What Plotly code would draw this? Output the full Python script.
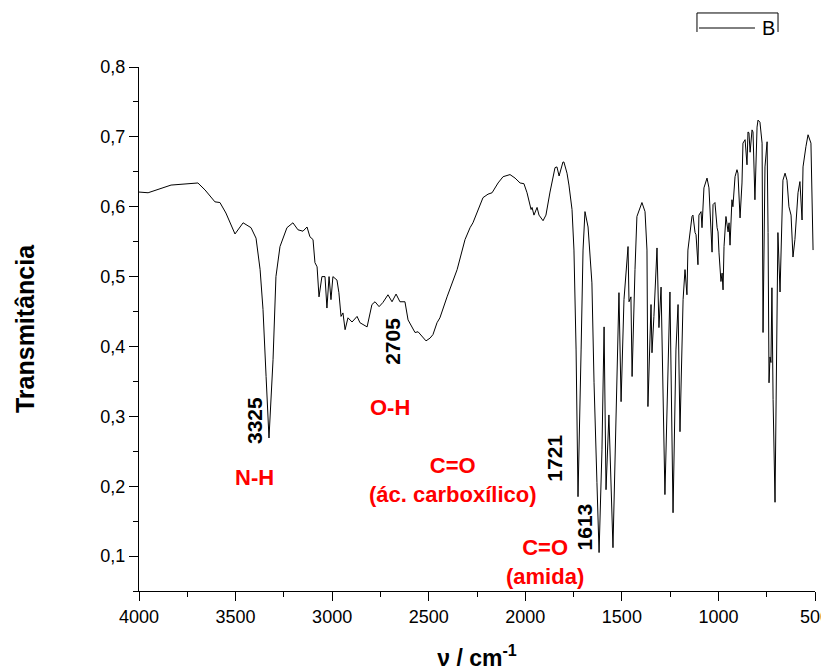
import plotly.graph_objects as go

# Wavenumber (cm^-1) and transmittance
wavenumber = [4000, 3953, 3834, 3731, 3695, 3658, 3607, 3581, 3550, 3503, 3461, 3420, 3394, 3373,
              3358, 3342, 3327, 3306, 3291, 3270, 3234, 3203, 3177, 3151, 3130, 3115, 3099, 3089,
              3078, 3068, 3053, 3037, 3027, 3016, 3006, 2996, 2975, 2965, 2954, 2944, 2933, 2918,
              2897, 2871, 2856, 2819, 2794, 2778, 2757, 2737, 2711, 2690, 2669, 2649, 2623, 2607,
              2587, 2571, 2555, 2535, 2514, 2493, 2478, 2457, 2442, 2405, 2379, 2353, 2312, 2286,
              2271, 2245, 2219, 2193, 2172, 2141, 2115, 2079, 2053, 2027, 2007, 1991, 1981, 1970,
              1965, 1955, 1939, 1929, 1908, 1893, 1872, 1846, 1836, 1825, 1805, 1800, 1784, 1774,
              1758, 1748, 1737, 1727, 1711, 1701, 1691, 1675, 1655, 1644, 1629, 1618, 1603, 1592,
              1582, 1567, 1546, 1525, 1515, 1504, 1489, 1468, 1463, 1453, 1447, 1432, 1422, 1396,
              1380, 1370, 1365, 1349, 1344, 1334, 1318, 1308, 1297, 1277, 1251, 1235, 1220, 1209,
              1199, 1183, 1173, 1163, 1158, 1137, 1132, 1121, 1116, 1106, 1101, 1090, 1085, 1075,
              1059, 1049, 1044, 1033, 1028, 1018, 1007, 1002, 997, 987, 981, 976, 971, 961, 950,
              945, 940, 930, 925, 914, 904, 899, 888, 878, 873, 862, 852, 847, 842, 836, 826, 821,
              811, 800, 795, 785, 774, 769, 759, 748, 743, 738, 733, 728, 723, 717, 707, 697, 692,
              681, 671, 666, 655, 645, 635, 624, 614, 604, 588, 578, 567, 562, 547, 536, 521, 510]

transmittance = [0.621, 0.620, 0.631, 0.634, 0.634, 0.624, 0.607, 0.606, 0.591, 0.561, 0.577, 0.570,
                 0.555, 0.510, 0.453, 0.357, 0.269, 0.381, 0.500, 0.543, 0.570, 0.577, 0.567, 0.565,
                 0.571, 0.557, 0.553, 0.520, 0.514, 0.471, 0.500, 0.500, 0.455, 0.500, 0.467, 0.500,
                 0.495, 0.477, 0.443, 0.448, 0.424, 0.441, 0.435, 0.443, 0.434, 0.428, 0.460, 0.464,
                 0.457, 0.463, 0.474, 0.464, 0.475, 0.464, 0.464, 0.438, 0.427, 0.420, 0.421, 0.414,
                 0.408, 0.412, 0.417, 0.434, 0.441, 0.471, 0.491, 0.510, 0.553, 0.570, 0.577, 0.596,
                 0.613, 0.618, 0.620, 0.634, 0.643, 0.646, 0.641, 0.634, 0.633, 0.620, 0.610, 0.596,
                 0.599, 0.588, 0.599, 0.588, 0.580, 0.588, 0.621, 0.656, 0.657, 0.644, 0.664, 0.664,
                 0.648, 0.631, 0.596, 0.538, 0.395, 0.185, 0.395, 0.538, 0.593, 0.571, 0.491, 0.348,
                 0.205, 0.105, 0.252, 0.428, 0.195, 0.302, 0.112, 0.348, 0.477, 0.321, 0.467, 0.543,
                 0.464, 0.471, 0.357, 0.510, 0.586, 0.606, 0.593, 0.538, 0.314, 0.460, 0.391, 0.443,
                 0.541, 0.427, 0.485, 0.188, 0.478, 0.162, 0.395, 0.460, 0.278, 0.467, 0.510, 0.474,
                 0.538, 0.586, 0.588, 0.563, 0.560, 0.517, 0.588, 0.593, 0.570, 0.627, 0.641, 0.627,
                 0.600, 0.535, 0.603, 0.606, 0.570, 0.564, 0.534, 0.493, 0.505, 0.481, 0.543, 0.586,
                 0.564, 0.577, 0.545, 0.610, 0.600, 0.643, 0.653, 0.648, 0.584, 0.634, 0.691, 0.696,
                 0.660, 0.707, 0.706, 0.678, 0.710, 0.707, 0.610, 0.714, 0.724, 0.721, 0.691, 0.420,
                 0.657, 0.693, 0.563, 0.348, 0.385, 0.377, 0.484, 0.324, 0.177, 0.420, 0.563, 0.478,
                 0.563, 0.638, 0.648, 0.638, 0.600, 0.588, 0.528, 0.553, 0.620, 0.636, 0.581, 0.657,
                 0.686, 0.703, 0.691, 0.538]

# Peak labels (text, wavenumber position, transmittance position)
peak_labels = ["3325", "2705", "1721", "1613"]
peak_x = [3402, 2685, 1846, 1696]
peak_y = [0.294, 0.408, 0.2395, 0.141]

# Group labels (red)
group_labels = ["N-H", "O-H", "C=O<br>(ác. carboxílico)", "C=O<br>(amida)"]
group_x = [3402, 2698, 2374, 1898]
group_y = [0.212, 0.312, 0.209, 0.092]

FONT = "Arial, Liberation Sans, sans-serif"

fig = go.Figure()
fig.add_trace(go.Scatter(x=wavenumber, y=transmittance, mode="lines",
                         line=dict(color="black", width=1), name="B", showlegend=False))

annotations = []
for t, x, y in zip(peak_labels, peak_x, peak_y):
    annotations.append(dict(x=x, y=y, xref="x", yref="y", text="<b>%s</b>" % t,
                            showarrow=False, textangle=-90, xanchor="center", yanchor="middle",
                            font=dict(family=FONT, size=21, color="black")))
for t, x, y in zip(group_labels, group_x, group_y):
    annotations.append(dict(x=x, y=y, xref="x", yref="y", text="<b>%s</b>" % t,
                            showarrow=False, xanchor="center", yanchor="middle", align="center",
                            font=dict(family=FONT, size=22, color="red")))
# legend-like label
annotations.append(dict(x=0.9305, y=1.074, xref="paper", yref="paper", text="B", showarrow=False,
                        xanchor="center", yanchor="middle",
                        font=dict(family=FONT, size=20, color="black")))

shapes = [
    dict(type="line", xref="paper", yref="paper", x0=0.8254, x1=0.9453, y0=1.1031, y1=1.1031,
         line=dict(color="black", width=1)),
    dict(type="line", xref="paper", yref="paper", x0=0.8254, x1=0.8254, y0=1.1031, y1=1.0668,
         line=dict(color="black", width=1)),
    dict(type="line", xref="paper", yref="paper", x0=0.9453, x1=0.9453, y0=1.1031, y1=1.0668,
         line=dict(color="black", width=1)),
    dict(type="line", xref="paper", yref="paper", x0=0.8284, x1=0.9112, y0=1.0744, y1=1.0744,
         line=dict(color="black", width=1)),
]

# page body adds an 8px offset; size compensates so the plot area lands at x 139-815, y 67-591
fig.update_layout(
    width=821, height=663, autosize=False,
    margin=dict(l=131, r=14, t=59, b=80),
    paper_bgcolor="white", plot_bgcolor="white",
    separators=",.",
    font=dict(family=FONT, size=18, color="black"),
    annotations=annotations, shapes=shapes,
    showlegend=False,
)
fig.update_xaxes(
    range=[4000, 500], tick0=500, dtick=500, showline=True, linecolor="black", linewidth=1,
    ticks="outside", ticklen=9, tickwidth=1, tickcolor="black", showgrid=False, zeroline=False,
    automargin=False, ticklabeloverflow="allow",
    tickfont=dict(family=FONT, size=18, color="black"),
    minor=dict(dtick=250, tick0=500, ticks="outside", ticklen=5, tickcolor="black", showgrid=False),
    title=dict(text="<b>ν / cm<sup>-1</sup></b>", font=dict(family=FONT, size=23, color="black"),
               standoff=27),
)
fig.update_yaxes(
    range=[0.05, 0.8], tick0=0.1, dtick=0.1, tickformat=".1f", showline=True, linecolor="black",
    linewidth=1, ticks="outside", ticklen=9, tickwidth=1, tickcolor="black", showgrid=False,
    zeroline=False, automargin=False, tickfont=dict(family=FONT, size=18, color="black"),
    minor=dict(dtick=0.05, tick0=0.05, ticks="outside", ticklen=5, tickcolor="black", showgrid=False),
    title=dict(text="<b>Transmitância</b>", font=dict(family=FONT, size=25, color="black"),
               standoff=58),
)

fig.write_html("out.html")
